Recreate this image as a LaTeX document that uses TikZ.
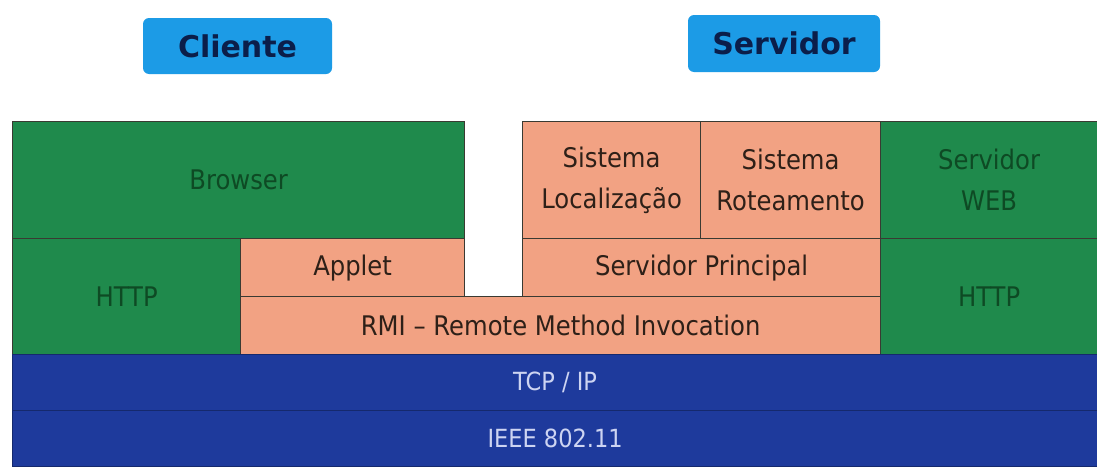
\documentclass[tikz,border=0pt]{standalone}
\usepackage{fontspec}
\setmainfont{DejaVu Sans}
\newfontfamily\layerfont[FakeStretch=0.9]{DejaVu Sans}
\definecolor{layergreen}{HTML}{1F8A4C}
\definecolor{greentext}{HTML}{0E4A24}
\definecolor{layersalmon}{HTML}{F2A283}
\definecolor{salmontext}{HTML}{2E2018}
\definecolor{layerblue}{HTML}{1E3A9C}
\definecolor{bluetext}{HTML}{CDD4F2}
\definecolor{tagblue}{HTML}{1C9BE6}
\definecolor{tagtext}{HTML}{0B1E4A}
\definecolor{edge}{HTML}{3A3A32}
\begin{document}
\begin{tikzpicture}[x=1pt,y=-1pt,
  layer/.style={draw=edge,line width=1.2pt,anchor=north west,inner sep=0pt,
    align=center,font=\layerfont\fontsize{27}{41}\selectfont},
  green/.style={layer,fill=layergreen,text=greentext},
  salmon/.style={layer,fill=layersalmon,text=salmontext},
  blue/.style={layer,fill=layerblue,text=bluetext,draw=layerblue!70!black,
    font=\layerfont\fontsize{25}{30}\selectfont},
  tag/.style={fill=tagblue,rounded corners=6pt,text=tagtext,inner sep=0pt,
    font=\bfseries\fontsize{30}{34}\selectfont}]
\useasboundingbox (0,0) rectangle (1097,466);
\fill[white] (0,0) rectangle (1097,466);

% side headings
\node[tag,minimum width=189pt,minimum height=56pt] (cliente) at (237.5,46) {Cliente};
\node[tag,minimum width=192pt,minimum height=57pt] (servidor) at (784,43.5) {Servidor};

% client stack
\node[green,minimum width=452pt,minimum height=117pt] (browser) at (12,121) {Browser};
\node[green,minimum width=228pt,minimum height=116pt] (httpc) at (12,238) {HTTP};
\node[salmon,minimum width=224pt,minimum height=58pt] (applet) at (240,238) {Applet};

% server stack
\node[salmon,minimum width=178pt,minimum height=117pt] (loc) at (522,121) {Sistema\\Localização};
\node[salmon,minimum width=180pt,minimum height=117pt] (rot) at (700,121) {Sistema\\Roteamento};
\node[green,minimum width=217pt,minimum height=117pt] (web) at (880,121) {Servidor\\WEB};
\node[salmon,minimum width=358pt,minimum height=58pt] (principal) at (522,238) {Servidor Principal};
\node[green,minimum width=217pt,minimum height=116pt] (https) at (880,238) {HTTP};

% shared layers
\node[salmon,minimum width=640pt,minimum height=58pt] (rmi) at (240,296) {RMI – Remote Method Invocation};
\node[blue,minimum width=1085pt,minimum height=56pt] (tcp) at (12,354) {TCP / IP};
\node[blue,minimum width=1085pt,minimum height=56pt] (ieee) at (12,410) {IEEE 802.11};
\end{tikzpicture}
\end{document}
